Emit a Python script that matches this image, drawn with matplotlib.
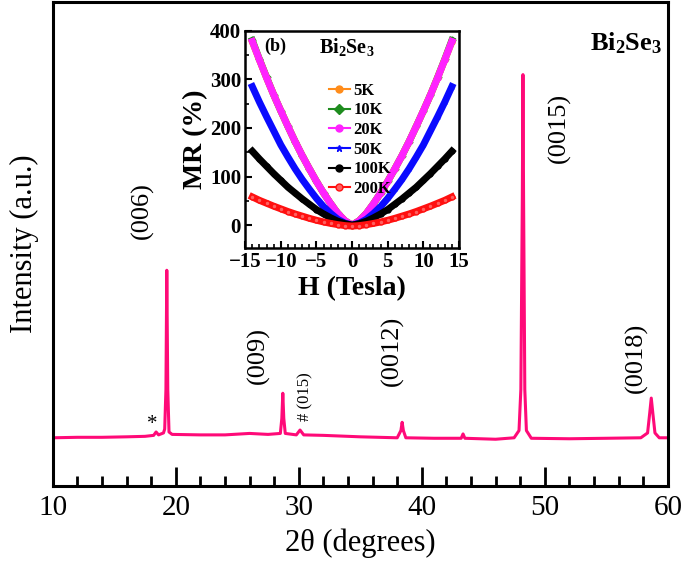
import matplotlib
matplotlib.use('Agg')
import matplotlib.pyplot as plt
import numpy as np
from matplotlib.ticker import MultipleLocator

plt.rcParams['font.family'] = ['Liberation Serif', 'DejaVu Serif']
plt.rcParams['mathtext.fontset'] = 'custom'
plt.rcParams['mathtext.rm'] = 'Liberation Serif'
plt.rcParams['mathtext.bf'] = 'Liberation Serif:bold'

# XRD trace (2theta, intensity a.u.)
two_theta = [10, 12, 14, 16, 17.5, 18.2, 18.4, 18.6, 19.0, 19.1, 19.2, 19.27, 19.35, 19.45,
             19.7, 22, 24, 26, 27.5, 28.5, 28.62, 28.7, 28.78, 28.9, 29.8, 30.1, 30.4, 32,
             35, 38.0, 38.3, 38.4, 38.5, 38.7, 41, 43.2, 43.35, 43.5, 46, 47.5, 47.9, 48.05,
             48.17, 48.22, 48.27, 48.37, 48.5, 48.9, 52, 55, 57.8, 58.35, 58.52, 58.65, 58.78,
             58.95, 59.3, 60]
intensity = [10.0, 10.1, 10.1, 10.2, 10.3, 10.5, 11.2, 10.6, 11.0, 11.8, 20, 44.6, 20, 11.2,
             10.7, 10.6, 10.6, 10.9, 10.7, 10.9, 14, 19.2, 14, 10.9, 10.6, 11.6, 10.6, 10.5,
             10.2, 10.0, 11.5, 13.2, 11.5, 10.0, 9.9, 9.9, 10.8, 9.9, 9.7, 10.0, 11.5, 20,
             60, 85, 60, 20, 11.5, 9.9, 9.8, 9.9, 10.0, 11, 15, 18.2, 15,
             11, 10, 10]

peak_labels = ['(006)', '(009)', '(0012)', '(0015)', '(0018)']
peak_label_x = [17.3, 26.7, 37.6, 51.2, 57.4]
peak_label_y = [57, 27, 28, 74, 26.5]

# MR data (half field range, mirrored)
h_half = np.arange(0, 15)
mr_20k = [0, 9, 24, 44, 66, 90, 116, 143, 172, 203, 235, 268, 303, 340, 378]
mr_10k = [0, 9, 24, 44, 66, 90, 116, 143, 172, 203, 235, 268, 304, 341, 380]
mr_5k = [0, 9, 24, 44, 66, 90, 116, 143, 172, 203, 235, 268, 303, 340, 377]
mr_50k = [0, 4, 12, 24, 38, 55, 74, 94, 116, 140, 165, 194, 223, 253, 285]
mr_100k = [0, 3, 8, 15, 23, 32, 43, 54, 66, 78, 92, 106, 121, 136, 152]
mr_200k = [-2, -1, 1, 3.5, 6.5, 10, 14, 18.5, 23, 28, 33.5, 39, 45, 51, 58]
temps = ['5K', '10K', '20K', '50K', '100K', '200K']


def mirror(v):
    v = np.asarray(v, dtype=float)
    return np.concatenate([v[:0:-1], v])


H = np.concatenate([-h_half[:0:-1], h_half])

fig = plt.figure(figsize=(6.85, 5.7), dpi=100)
ax = fig.add_axes([0.077, 0.147, 0.898, 0.8495])
ax.plot(two_theta, intensity, color='#ff0a78', lw=2.2)
ax.set_xlim(10, 60)
ax.set_ylim(0, 100)
ax.set_yticks([])
ax.xaxis.set_major_locator(MultipleLocator(10))
ax.xaxis.set_minor_locator(MultipleLocator(2))
ax.tick_params(axis='x', which='major', direction='in', length=14, width=2, labelsize=21, pad=6)
ax.tick_params(axis='x', which='minor', direction='in', length=7, width=2)
for s in ax.spines.values():
    s.set_linewidth(2.2)
ax.set_xlabel('2θ (degrees)', fontsize=22, labelpad=6)
ax.set_ylabel('Intensity (a.u.)', fontsize=22, labelpad=10)

for lab, x, y in zip(peak_labels, peak_label_x, peak_label_y):
    ax.text(x, y, lab, rotation=90, fontsize=19, ha='center', va='center')
ax.text(30.5, 18.5, '# (015)', rotation=90, fontsize=12, ha='center', va='center')
ax.text(18.1, 12.8, '*', fontsize=15, ha='center', va='center')
ax.text(59.5, 91.5, r'$\mathbf{Bi_2Se_3}$', fontsize=19, ha='right', va='center')

# inset
ins = fig.add_axes([0.358, 0.565, 0.312, 0.381])
colors = ['#ff8c1a', '#1e8c1e', '#ff22ff', '#0a0aff', '#000000', '#ff1010']
markers = ['o', 'D', 'o', '*', 'o', 'o']
series = [mr_5k, mr_10k, mr_20k, mr_50k, mr_100k, mr_200k]
order = [1, 0, 2, 3, 4, 5]
handles = [None] * 6
for i in order:
    mfc = '#ff6060' if i == 5 else colors[i]
    h, = ins.plot(H, mirror(series[i]), color=colors[i], lw=5, marker=markers[i],
                  ms=3.5, mfc=mfc, mec=colors[i], label=temps[i])
    handles[i] = h
ins.set_xlim(-15, 15)
ins.set_ylim(-47, 400)
ins.xaxis.set_major_locator(MultipleLocator(5))
ins.xaxis.set_minor_locator(MultipleLocator(1))
ins.yaxis.set_major_locator(MultipleLocator(100))
ins.yaxis.set_minor_locator(MultipleLocator(50))
ins.tick_params(which='major', direction='in', length=5, width=1.5, labelsize=15, pad=3)
ins.tick_params(which='minor', direction='in', length=3, width=1.2)
for lab in ins.get_xticklabels() + ins.get_yticklabels():
    lab.set_fontweight('bold')
for s in ins.spines.values():
    s.set_linewidth(1.8)
ins.set_xlabel('H (Tesla)', fontsize=20, fontweight='bold', labelpad=3)
ins.set_ylabel('MR (%)', fontsize=20, fontweight='bold', labelpad=1)
ins.text(-12.3, 368, '(b)', fontsize=13, fontweight='bold', ha='left', va='center')
ins.text(-4.6, 366, r'$\mathbf{Bi_2Se_3}$', fontsize=14.5, ha='left', va='center')
leg = ins.legend(handles=handles, loc='upper left', bbox_to_anchor=(0.32, 0.83),
                 frameon=False, handlelength=1.3, handletextpad=0.2, labelspacing=0.22,
                 prop={'weight': 'bold', 'size': 12, 'family': 'Liberation Serif'})
for lh in leg.get_lines():
    lh.set_linewidth(1.5)
    lh.set_markersize(5)

fig.savefig('out.png', dpi=100)
